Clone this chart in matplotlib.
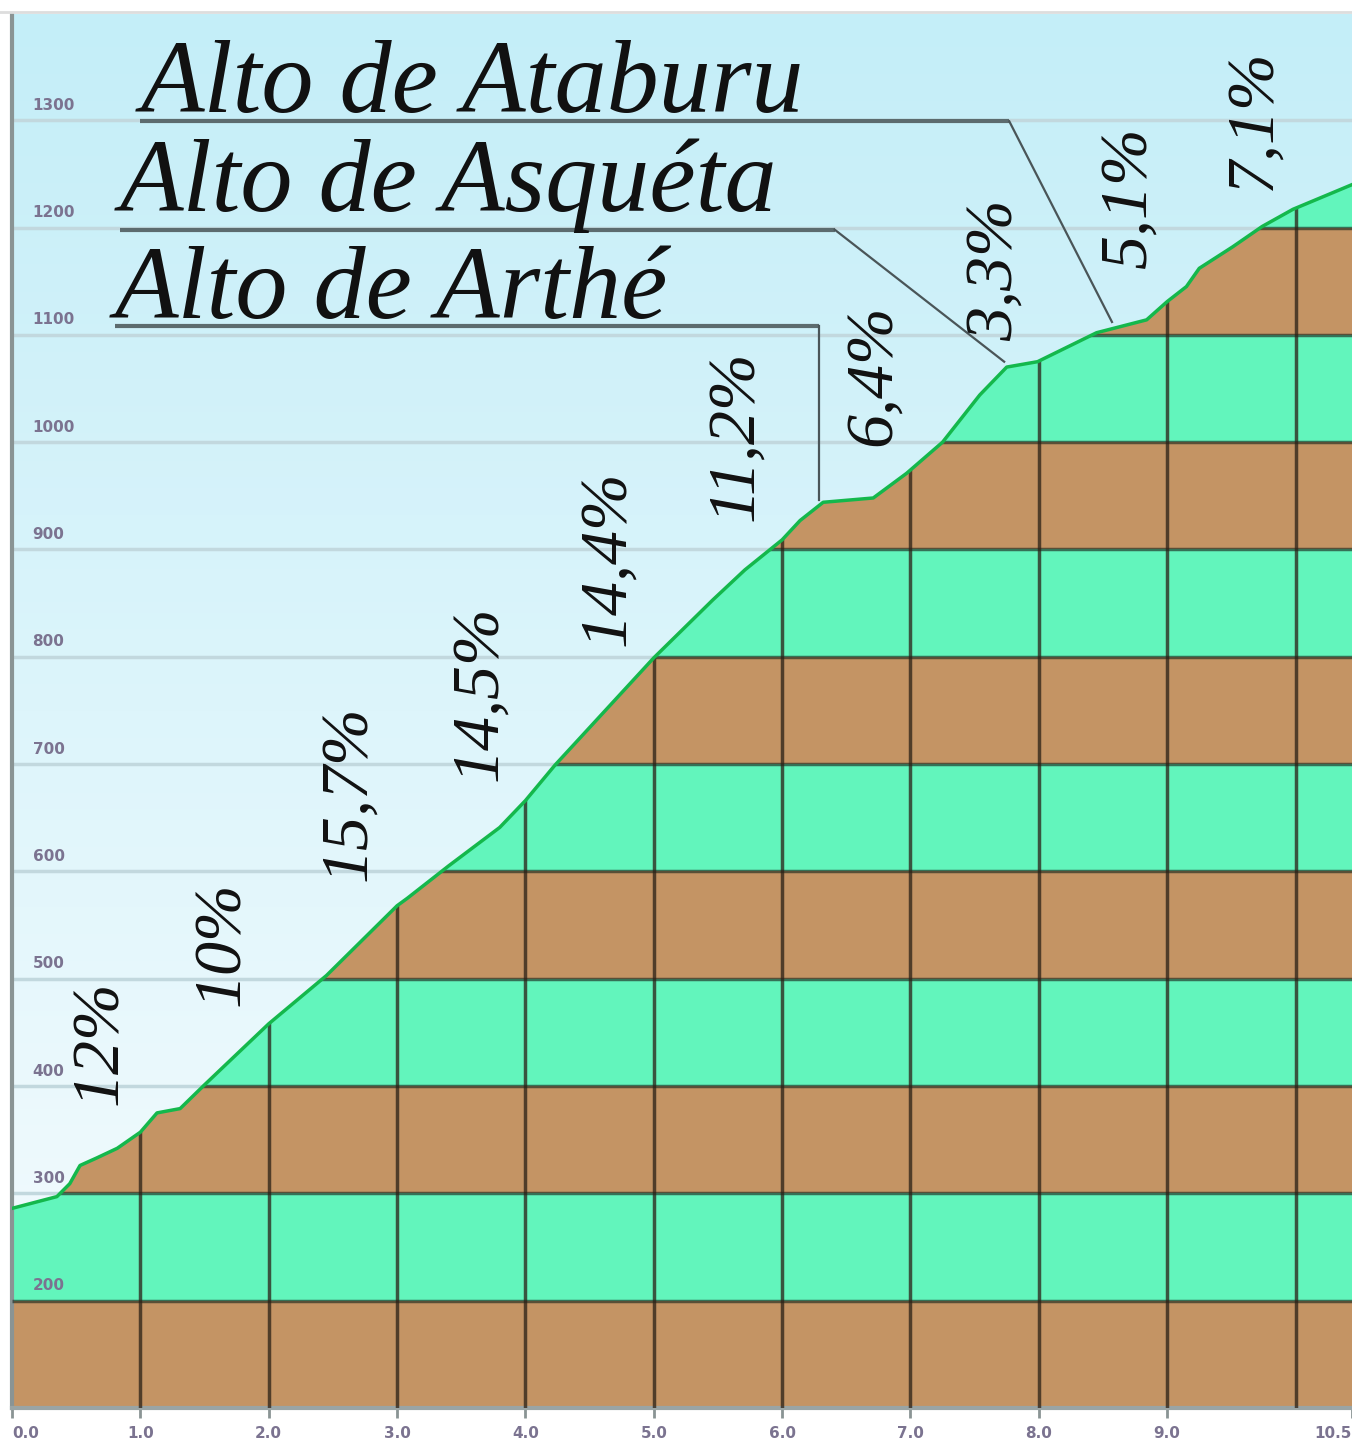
import numpy as np
import matplotlib
matplotlib.use("Agg")
import matplotlib.pyplot as plt
from matplotlib.colors import LinearSegmentedColormap
from matplotlib.patches import Polygon

# perfil: distancia (km) / altitud (m)
dist = [0.0, 0.35, 0.45, 0.53, 0.66, 0.82, 1.0, 1.13, 1.31, 1.49, 1.78, 2.0,
        2.45, 3.0, 3.08, 3.40, 3.80, 4.0, 4.23, 5.0, 5.46, 5.71, 6.0,
        6.14, 6.32, 6.71, 6.97, 7.25, 7.54, 7.75, 7.99, 8.45, 8.84, 9.0, 9.15,
        9.25, 9.51, 9.74, 9.98, 10.44]
elev = [286, 297, 309, 326, 333, 342, 357, 375, 379, 400, 433, 458,
        503, 568, 575, 605, 641, 666, 699, 799, 853, 881, 909,
        927, 944, 948, 971, 1000, 1044, 1070, 1075, 1102, 1114, 1131, 1145,
        1162, 1182, 1201, 1217, 1240]

# pendientes
pct_labels = ["12%", "10%", "15,7%", "14,5%", "14,4%", "11,2%", "6,4%", "3,3%", "5,1%", "7,1%"]
pct_x = [0.69, 1.64, 2.62, 3.64, 4.64, 5.64, 6.71, 7.66, 8.70, 9.67]
pct_y = [440, 533, 673, 766, 892, 1006, 1062, 1160, 1228, 1300]

# altos
alto_names = ["Alto de Ataburu", "Alto de Asquéta", "Alto de Arthé"]
alto_text_x = [1.0, 0.84, 0.80]
alto_text_y = [1308, 1215, 1116]
alto_line_x = [[1.0, 7.77, 8.57], [0.84, 6.41, 7.73], [0.80, 6.29, 6.29]]
alto_line_y = [[1299, 1299, 1112], [1198, 1198, 1075], [1108, 1108, 946]]

xticks = [0, 1, 2, 3, 4, 5, 6, 7, 8, 9, 10.44]
xtick_labels = ["0.0", "1.0", "2.0", "3.0", "4.0", "5.0", "6.0", "7.0", "8.0", "9.0", "10.5"]
yticks = [200, 300, 400, 500, 600, 700, 800, 900, 1000, 1100, 1200, 1300]

XMAX = 10.44
YMIN, YMAX = 100, 1399

fig = plt.figure(figsize=(13.52, 14.45), dpi=100)
ax = fig.add_axes([12 / 1352, 37 / 1445, 1340 / 1352, 1394 / 1445])
ax.set_xlim(0, XMAX)
ax.set_ylim(YMIN, YMAX)

# fondo degradado
sky = LinearSegmentedColormap.from_list("sky", ["#f6fcfe", "#c4eef8"])
grad = np.linspace(0, 1, 256).reshape(-1, 1)
ax.imshow(grad, extent=[0, XMAX, YMIN, YMAX], origin="lower", aspect="auto",
          cmap=sky, zorder=0)

# lineas del cielo
ax.hlines(yticks, 0, XMAX, color="#c2d8de", lw=2.5, zorder=1)

# zona rellena
verts = [(dist[0], YMIN)] + list(zip(dist, elev)) + [(dist[-1], YMIN)]
poly = Polygon(verts, closed=True, facecolor="none", edgecolor="none",
               transform=ax.transData)
ax.add_patch(poly)

brown = "#c49464"
green = "#62f5bc"
for lo in range(100, 1300, 100):
    c = brown if (lo // 100) % 2 == 1 else green
    band = ax.axhspan(lo, lo + 100, color=c, lw=0, zorder=2)
    band.set_clip_path(poly)

hl = ax.hlines(yticks, 0, XMAX, color="#1e2a20", alpha=0.65, lw=2.5, zorder=3)
hl.set_clip_path(poly)
vl = ax.vlines(range(1, 11), YMIN, YMAX, color="#2a2016", alpha=0.75, lw=2.5, zorder=3)
vl.set_clip_path(poly)

ax.plot(dist, elev, color="#14b84c", lw=2.5, zorder=4)

# etiquetas del eje y dentro del grafico
for v in yticks:
    ax.text(0.16, v + 7, str(v), fontsize=11, fontweight="bold", color="#7b7390",
            ha="left", va="bottom", zorder=6)

# pendientes
for lab, x, y in zip(pct_labels, pct_x, pct_y):
    ax.text(x, y, lab, rotation=90, ha="center", va="center", fontsize=49,
            family="Liberation Serif", style="italic", color="#111111", zorder=6)

# nombres de los altos
for name, tx, ty, lx, ly in zip(alto_names, alto_text_x, alto_text_y, alto_line_x, alto_line_y):
    ax.text(tx, ty, name, ha="left", va="baseline", fontsize=75,
            family="Liberation Serif", style="italic", color="#111111", zorder=6)
    ax.plot(lx[:2], ly[:2], color="#5c6b6e", lw=3, zorder=5, solid_capstyle="butt")
    ax.plot(lx[1:], ly[1:], color="#4a5558", lw=1.6, zorder=5)

# ejes
ax.set_yticks([])
ax.set_xticks(xticks)
ax.set_xticklabels(xtick_labels, fontsize=11, fontweight="bold", color="#7b7390")
ax.get_xticklabels()[0].set_ha("left")
ax.get_xticklabels()[-1].set_ha("right")
ax.tick_params(axis="x", length=7, width=2, color="#8a9494", pad=6)
for s in ["top", "right"]:
    ax.spines[s].set_visible(False)
ax.spines["left"].set_color("#8a9494")
ax.spines["left"].set_linewidth(3)
ax.spines["bottom"].set_color("#9aa4a4")
ax.spines["bottom"].set_linewidth(3)

fig.add_artist(plt.Line2D([0, 1], [1 - 12 / 1445, 1 - 12 / 1445], color="#dddddd", lw=2))

plt.savefig("out.png", dpi=100)
